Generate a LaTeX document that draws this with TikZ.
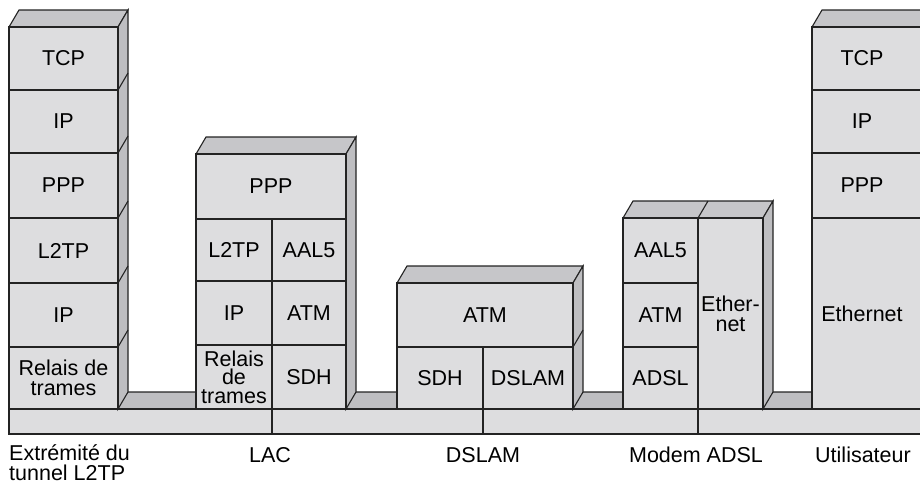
\documentclass[tikz,border=0pt]{standalone}
\usepackage{fontspec}
\setmainfont{Liberation Sans}
\definecolor{frontc}{RGB}{221,221,223}
\definecolor{sidec}{RGB}{190,190,193}
\definecolor{topc}{RGB}{198,198,201}
\definecolor{linec}{RGB}{35,35,35}
\tikzset{
  edge/.style={draw=linec,line width=1.1pt,line join=miter},
  cell/.style={edge,fill=frontc,inner sep=0pt,outer sep=0pt,align=center,
    font=\fontsize{21.5}{19.5}\selectfont},
  txt/.style={inner sep=0pt,align=center,font=\fontsize{21.5}{19.5}\selectfont},
  lbl/.style={inner sep=0pt,font=\fontsize{21.5}{19.5}\selectfont},
  topface/.style={edge,fill=topc},
  sideface/.style={edge,fill=sidec}
}
% name, x1, y1, x2, y2, text
\newcommand\layercell[6]{%
  \node[cell,minimum width={(#4-#2)*1pt},minimum height={(#5-#3)*1pt}] (#1)
    at ({(#2+#4)/2},{(#3+#5)/2}) {#6};}
% x1, x2, ytop : top and side faces of a stack
\newcommand\stackfaces[3]{%
  \path[topface] (#1,#3) -- (#1+10,#3-17) -- (#2+10,#3-17) -- (#2,#3) -- cycle;
  \path[sideface] (#2,#3) -- (#2+10,#3-17) -- (#2+10,392) -- (#2,409) -- cycle;}
\begin{document}
\begin{tikzpicture}[x=1pt,y=-1pt]
\useasboundingbox (0,0) rectangle (920,483);
\clip (0,0) rectangle (920,483);
% base slab
\path[sideface] (9,409) -- (19,392) -- (930,392) -- (930,409) -- cycle;
\path[edge,fill=frontc] (9,409) rectangle (272,434);
\path[edge,fill=frontc] (272,409) rectangle (483,434);
\path[edge,fill=frontc] (483,409) rectangle (698,434);
\path[edge,fill=frontc] (698,409) rectangle (930,434);
% left stack
\stackfaces{9}{118}{27}
\foreach \y in {90,153,218,283,347} \draw[edge] (118,\y) -- (128,\y-17);
\layercell{a1}{9}{27}{118}{90}{TCP}
\layercell{a2}{9}{90}{118}{153}{IP}
\layercell{a3}{9}{153}{118}{218}{PPP}
\layercell{a4}{9}{218}{118}{283}{L2TP}
\layercell{a5}{9}{283}{118}{347}{IP}
\layercell{a6}{9}{347}{118}{409}{Relais de\\trames}
% LAC
\stackfaces{196}{346}{154}
\layercell{b1}{196}{154}{346}{219}{PPP}
\layercell{b2}{196}{219}{272}{281}{L2TP}
\layercell{b3}{272}{219}{346}{281}{AAL5}
\layercell{b4}{196}{281}{272}{345}{IP}
\layercell{b5}{272}{281}{346}{345}{ATM}
\node[cell,minimum width=76pt,minimum height=64pt,font=\fontsize{21.5}{18.5}\selectfont]
  (b6) at (234,377) {Relais\\de\\trames};
\layercell{b7}{272}{345}{346}{409}{SDH}
% DSLAM
\stackfaces{397}{573}{283}
\draw[edge] (573,347) -- (583,330);
\layercell{c1}{397}{283}{573}{347}{ATM}
\layercell{c2}{397}{347}{483}{409}{SDH}
\layercell{c3}{483}{347}{573}{409}{DSLAM}
% Modem ADSL
\stackfaces{623}{763}{218}
\draw[edge] (698,218) -- (708,201);
\layercell{d1}{623}{218}{698}{283}{AAL5}
\layercell{d2}{623}{283}{698}{347}{ATM}
\layercell{d3}{623}{347}{698}{409}{ADSL}
\node[cell,minimum width=65pt,minimum height=191pt,font=\fontsize{21.5}{20}\selectfont]
  (d4) at (730.5,313.5) {Ether-\\net};
% Utilisateur
\path[topface] (812,27) -- (822,10) -- (935,10) -- (935,27) -- cycle;
\path[edge,fill=frontc] (812,27) rectangle (935,409);
\foreach \y in {90,153,218} \draw[edge] (812,\y) -- (935,\y);
\node[txt] (e1) at (862,58.5) {TCP};
\node[txt] (e2) at (862,121.5) {IP};
\node[txt] (e3) at (862,185.5) {PPP};
\node[txt] (e4) at (862,313.5) {Ethernet};
% labels
\node[lbl,anchor=north west,align=left] (l1) at (9,444.5) {Extrémité du\\tunnel L2TP};
\node[lbl,anchor=base] (l2) at (270,462) {LAC};
\node[lbl,anchor=base] (l3) at (483,462) {DSLAM};
\node[lbl,anchor=base] (l4) at (696,462) {Modem ADSL};
\node[lbl,anchor=base] (l5) at (863,462) {Utilisateur};
\end{tikzpicture}
\end{document}
